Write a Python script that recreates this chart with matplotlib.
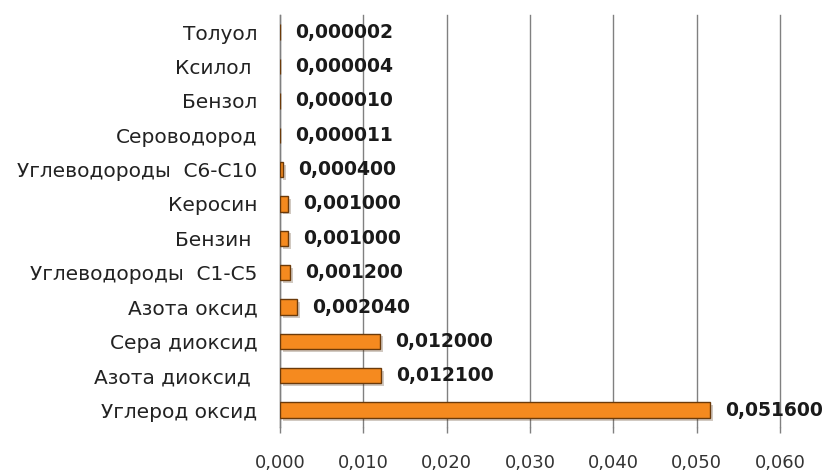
import matplotlib
matplotlib.use("Agg")
import matplotlib.pyplot as plt
import matplotlib.patheffects as pe
import numpy as np

# данные снизу вверх (как на диаграмме)
categories = [
    "Углерод оксид", "Азота диоксид ", "Сера диоксид", "Азота оксид",
    "Углеводороды  С1-С5", "Бензин ", "Керосин", "Углеводороды  С6-С10",
    "Сероводород", "Бензол", "Ксилол ", "Толуол",
]
values = [0.0516, 0.0121, 0.012, 0.00204, 0.0012, 0.001, 0.001, 0.0004,
          0.000011, 0.00001, 0.000004, 0.000002]
xticks = [0.0, 0.01, 0.02, 0.03, 0.04, 0.05, 0.06]
xtick_labels = ["0,000", "0,010", "0,020", "0,030", "0,040", "0,050", "0,060"]

plt.rcParams["font.family"] = ["DejaVu Sans"]

fig = plt.figure(figsize=(8.23, 4.70), dpi=100)
ax = fig.add_axes([0.340, 0.091, 0.608, 0.877])

y = np.arange(len(categories))
bars = ax.barh(y, values, height=0.45, color="#F58A1F", edgecolor="#6B3A0A",
               linewidth=1.0, zorder=3)
for b in bars:
    b.set_path_effects([pe.SimplePatchShadow(offset=(2, -2), alpha=0.25),
                        pe.Normal()])

for yi, v in zip(y, values):
    ax.annotate(f"{v:.6f}".replace(".", ","), xy=(v, yi), xytext=(11, 0),
                textcoords="offset points", va="center", ha="left",
                fontsize=13.5, fontweight="bold", color="#1a1a1a", zorder=4)

ax.set_xlim(0, 0.06)
ax.set_ylim(-0.5, len(categories) - 0.5)
ax.set_xticks(xticks)
ax.set_xticklabels(xtick_labels, fontsize=13, color="#333333")
ax.set_yticks(y)
ax.set_yticklabels(categories, fontsize=14.5, color="#222222")
ax.tick_params(axis="x", length=4, width=1, color="#808080", pad=15)
ax.tick_params(axis="y", length=0, pad=16)

ax.grid(axis="x", color="#808080", linewidth=1.0, zorder=0)
for s in ["top", "right", "bottom"]:
    ax.spines[s].set_visible(False)
ax.spines["left"].set_color("#808080")
ax.spines["left"].set_linewidth(1.0)
for gl in ax.get_xgridlines():
    gl.set_clip_on(False)

fig.savefig("out.png", dpi=100)
